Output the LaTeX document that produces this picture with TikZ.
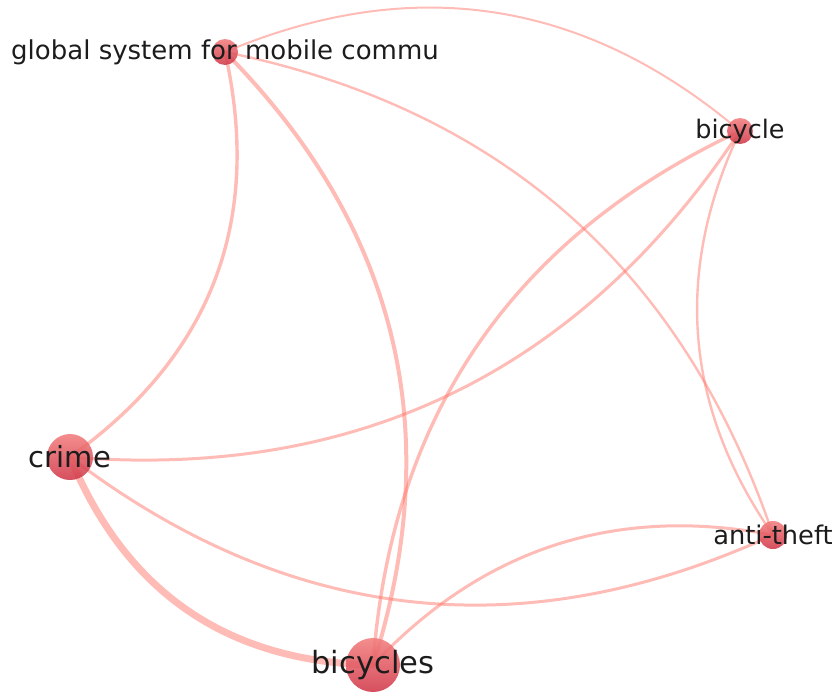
\documentclass[tikz,border=0pt]{standalone}
\usepackage{fontspec}
\setmainfont{DejaVu Sans}
\usetikzlibrary{backgrounds,calc}
\definecolor{linkred}{RGB}{255,120,108}
\definecolor{nodetop}{RGB}{242,125,125}
\definecolor{nodebot}{RGB}{208,55,72}
\definecolor{labelgray}{RGB}{28,28,28}
% quadratic link from #1 to #2 bent towards control point #3
\newcommand{\kwlink}[4][3pt]{%
  \draw[link=#1] (#2.center) .. controls ($(#2.center)!2/3!(#4)$)
    and ($(#3.center)!2/3!(#4)$) .. (#3.center);}
\begin{document}
\begin{tikzpicture}[x=1pt,y=-1pt,
  kw/.style={circle,inner sep=0pt,minimum size=#1,top color=nodetop,
    bottom color=nodebot,draw=none,opacity=0.88},
  kwlabel/.style={text=labelgray,inner sep=0pt,
    font=\fontsize{#1}{#1}\selectfont},
  link/.style={draw=linkred,line width=#1,opacity=0.5,line cap=round}]
\useasboundingbox (0,0) rectangle (840,691);

% keyword circles
\node[kw=26pt] (gsm)       at (225,52)  {};
\node[kw=26pt] (bicycle)   at (740,131) {};
\node[kw=46pt] (crime)     at (70,457)  {};
\node[kw=28pt] (antitheft) at (773,535) {};
\node[kw=54pt] (bicycles)  at (373,665) {};

% co-occurrence links, curved clockwise, behind the circles
\begin{scope}[on background layer]
\kwlink[2pt]{gsm}{bicycle}{507,-66.5}
\kwlink[2.4pt]{gsm}{antitheft}{638,136}
\kwlink[3.4pt]{gsm}{crime}{282,306}
\kwlink[4pt]{gsm}{bicycles}{484,314}
\kwlink[3pt]{bicycle}{crime}{501,492}
\kwlink[3.4pt]{bicycle}{bicycles}{400,290}
\kwlink[2.4pt]{bicycle}{antitheft}{640,343}
\kwlink[7pt]{crime}{bicycles}{154,660}
\kwlink[3pt]{crime}{antitheft}{398,707}
\kwlink[3pt]{bicycles}{antitheft}{537,490}
\end{scope}

% keyword labels
\node[kwlabel=26] (gsmlabel)       at (gsm)       {global system for mobile commu};
\node[kwlabel=25.5] (bicyclelabel) at (bicycle)   {bicycle};
\node[kwlabel=29] (crimelabel)     at (crime)     {crime};
\node[kwlabel=25.7] (antitheftlabel) at (antitheft) {anti-theft};
\node[kwlabel=30.6] (bicycleslabel) at (bicycles) {bicycles};
\end{tikzpicture}
\end{document}
